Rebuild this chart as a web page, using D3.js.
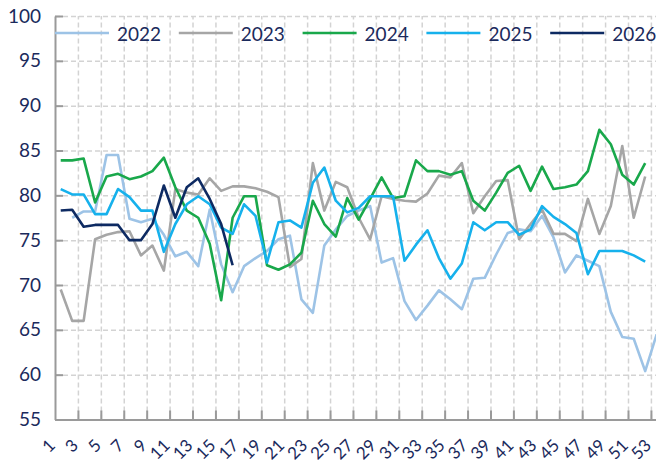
<!DOCTYPE html>
<html>
<head>
<meta charset="utf-8">
<script src="https://cdn.jsdelivr.net/npm/d3@7"></script>
<style>
  body { margin: 0; background: #fff; }
  svg { display: block; font-family: Lato, "Noto Sans", sans-serif; }
</style>
</head>
<body>
<div id="vis"></div>
<script>
// weekly values per year (null = no data)
const WEEKS = d3.range(1, 54);
const YEARS = ["2022", "2023", "2024", "2025", "2026"];
const COLORS = ["#9dc3e6", "#a6a6a6", "#19a84b", "#16b1ec", "#0d2a62"];

const v2022 = [null, 77.5, 78.2, 78.2, 84.5, 84.5, 77.4, 77.0, 77.4, 75.6,
  73.2, 73.7, 72.1, 78.4, 72.3, 69.2, 72.1, 73.0, 73.8, 75.1,
  75.5, 68.4, 66.9, 74.4, 76.2, 77.7, 78.3, 78.8, 72.5, 73.0,
  68.2, 66.1, 67.7, 69.4, 68.4, 67.3, 70.7, 70.8, 73.4, 75.8,
  76.2, 76.0, 77.7, 75.3, 71.4, 73.3, 72.7, 72.1, 67.0, 64.2,
  64.0, 60.4, 64.5];
const v2023 = [69.5, 66.0, 66.0, 75.1, 75.6, 75.9, 76.0, 73.3, 74.4, 71.6,
  80.7, 80.3, 80.1, 81.9, 80.5, 81.0, 81.0, 80.8, 80.4, 79.8,
  72.0, 72.9, 83.6, 78.3, 81.5, 80.9, 77.5, 75.1, 79.9, 79.6,
  79.4, 79.3, 80.2, 82.2, 82.0, 83.6, 78.0, 79.9, 81.6, 81.7,
  75.1, 76.8, 78.4, 75.7, 75.7, 74.9, 79.6, 75.7, 78.8, 85.5,
  77.5, 82.1, null];
const v2024 = [83.9, 83.9, 84.1, 79.2, 82.1, 82.4, 81.8, 82.1, 82.7, 84.2,
  80.9, 78.3, 77.5, 74.6, 68.3, 77.5, 79.9, 79.9, 72.2, 71.7,
  72.3, 73.6, 79.4, 76.8, 75.4, 79.7, 77.3, 79.6, 82.0, 79.7,
  79.9, 83.9, 82.7, 82.7, 82.3, 82.7, 79.4, 78.3, 80.3, 82.5,
  83.3, 80.5, 83.2, 80.7, 80.9, 81.2, 82.7, 87.3, 85.7, 82.3,
  81.2, 83.6, null];
const v2025 = [80.7, 80.1, 80.1, 77.9, 77.9, 80.7, 79.8, 78.3, 78.3, 73.7,
  76.8, 79.0, 79.9, 79.0, 76.4, 75.7, 79.0, 77.7, 72.5, 77.0,
  77.2, 76.4, 81.4, 83.1, 79.4, 78.1, 78.6, 79.9, 79.9, 79.9,
  72.7, 74.5, 76.1, 73.0, 70.7, 72.4, 77.0, 76.1, 77.0, 77.0,
  75.6, 76.2, 78.8, 77.6, 76.8, 75.8, 71.2, 73.8, 73.8, 73.8,
  73.3, 72.6, null];
const v2026 = [78.3, 78.4, 76.5, 76.7, 76.7, 76.7, 75.0, 75.0, 76.8, 81.1,
  77.5, 80.9, 81.9, 79.6, 76.8, 72.2];

const SERIES = [v2022, v2023, v2024, v2025, v2026];
const Y_TICKS = [55, 60, 65, 70, 75, 80, 85, 90, 95, 100];
const X_LABELS = WEEKS.filter(w => w % 2 === 1);

const WIDTH = 656, HEIGHT = 466;
const LEFT = 55, TOP = 16, BOTTOM = 419.5;
const STEP = 11.46;
const RIGHT = LEFT + STEP * WEEKS.length;

const svg = d3.select("#vis").append("svg")
  .attr("width", WIDTH)
  .attr("height", HEIGHT);

const X = d3.scaleLinear().domain([0.5, 53.5]).range([LEFT, RIGHT]);
const Y = d3.scaleLinear().domain([55, 100]).range([BOTTOM, TOP]);

const GRID = "#d3d3d3", AXIS = "#9a9a9a", TEXT = "#1b2a5c";

// horizontal grid
svg.append("g")
  .attr("transform", "translate(" + LEFT + ",0)")
  .call(d3.axisLeft(Y).tickValues(Y_TICKS.slice(1)).tickSize(-(RIGHT - LEFT)).tickFormat(""))
  .call(g => g.select(".domain").remove())
  .selectAll("line")
  .attr("stroke", GRID).attr("stroke-width", 1.5).attr("stroke-dasharray", "5,3");

// vertical grid at every second category boundary
const BOUNDS = X_LABELS.filter(w => w > 1).map(w => w - 0.5);
svg.append("g")
  .attr("transform", "translate(0," + BOTTOM + ")")
  .call(d3.axisBottom(X).tickValues(BOUNDS).tickSize(-(BOTTOM - TOP)).tickFormat(""))
  .call(g => g.select(".domain").remove())
  .selectAll("line")
  .attr("stroke", GRID).attr("stroke-width", 1.5).attr("stroke-dasharray", "5,3");

// y axis, ticks pointing inward
svg.append("g")
  .attr("transform", "translate(" + LEFT + ",0)")
  .call(d3.axisLeft(Y).tickValues(Y_TICKS).tickSize(-8).tickPadding(14).tickSizeOuter(0))
  .call(g => g.select(".domain").attr("stroke", AXIS).attr("stroke-width", 2))
  .call(g => g.selectAll("line").attr("stroke", AXIS).attr("stroke-width", 2))
  .call(g => g.selectAll("text").attr("fill", TEXT).attr("font-size", 19).attr("font-family", "Lato"));

// x axis line and ticks
svg.append("g")
  .attr("transform", "translate(0," + BOTTOM + ")")
  .call(d3.axisBottom(X).tickValues(BOUNDS).tickSize(-9).tickSizeOuter(0).tickFormat(""))
  .call(g => g.select(".domain").attr("stroke", AXIS).attr("stroke-width", 2))
  .call(g => g.selectAll("line").attr("stroke", AXIS).attr("stroke-width", 2));

// x labels, rotated
svg.append("g")
  .selectAll("text")
  .data(X_LABELS)
  .enter()
  .append("text")
  .attr("transform", d => "translate(" + (X(d) - 9) + ",442) rotate(-45)")
  .attr("text-anchor", "end")
  .attr("dominant-baseline", "central")
  .attr("fill", TEXT)
  .attr("font-size", 17)
  .text(d => d);

// series lines
const line = d3.line()
  .defined(d => d.v != null)
  .x(d => X(d.w))
  .y(d => Y(d.v));

SERIES.forEach((vals, i) => {
  svg.append("path")
    .datum(vals.map((v, j) => ({w: WEEKS[j], v: v})))
    .attr("fill", "none")
    .attr("stroke", COLORS[i])
    .attr("stroke-width", 2.6)
    .attr("stroke-linejoin", "round")
    .attr("d", line);
});

// legend
const legend = svg.append("g").attr("transform", "translate(" + LEFT + ",33)");
const items = legend.selectAll("g")
  .data(YEARS)
  .enter()
  .append("g")
  .attr("transform", (d, i) => "translate(" + (i * 123.8) + ",0)");
items.append("line")
  .attr("x1", 0).attr("x2", 54)
  .attr("stroke", (d, i) => COLORS[i])
  .attr("stroke-width", 2.6);
items.append("text")
  .attr("x", 62)
  .attr("dominant-baseline", "central")
  .attr("fill", TEXT)
  .attr("font-size", 19)
  .text(d => d);
</script>
</body>
</html>
